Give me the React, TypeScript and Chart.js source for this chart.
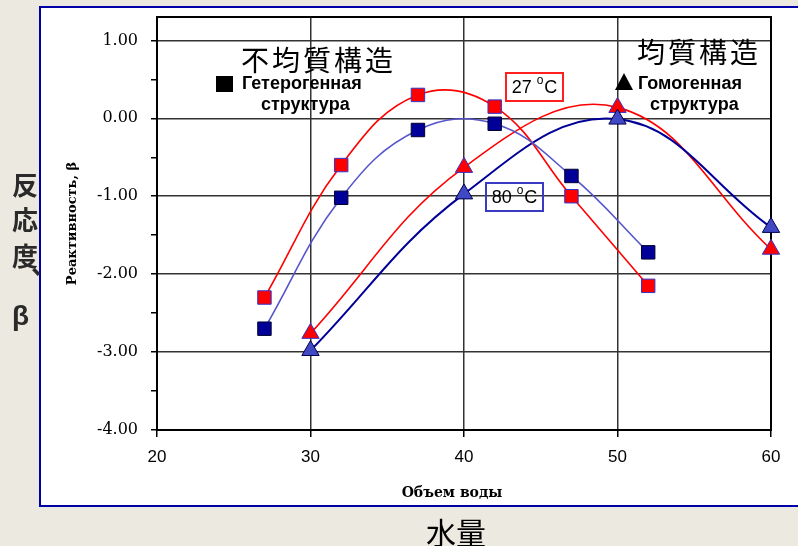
import React, { useEffect, useRef } from "react";
import { Chart, registerables } from "chart.js";

Chart.register(...registerables);

// ---- data ----
const WATER_HETERO = [27, 32, 37, 42, 47, 52];
const HETERO_27C = [-2.3, -0.6, 0.3, 0.15, -1.0, -2.15];
const HETERO_80C = [-2.7, -1.02, -0.15, -0.07, -0.74, -1.72];
const WATER_HOMO = [30, 40, 50, 60];
const HOMO_27C = [-2.76, -0.63, 0.14, -1.68];
const HOMO_80C = [-2.98, -0.97, -0.01, -1.4];
const X_TICKS = [20, 30, 40, 50, 60];
const Y_TICKS = [-4, -3, -2, -1, 0, 1];
const Y_MINOR_TICKS = [-3.5, -2.5, -1.5, -0.5, 0.5];
const X_TITLE = "Объем воды";
const Y_TITLE = "Реактивность, β";

const pts = (xs: number[], ys: number[]) => xs.map((x, i) => ({ x, y: ys[i] }));

const abs = (s: React.CSSProperties): React.CSSProperties => ({ position: "absolute", ...s });

export default function App() {
  const ref = useRef<HTMLCanvasElement>(null);

  useEffect(() => {
    const canvas = ref.current;
    if (!canvas) return;
    const frame = {
      id: "frame",
      beforeDatasetsDraw(chart: any) {
        const { ctx, chartArea: a } = chart;
        ctx.save();
        ctx.strokeStyle = "#000";
        ctx.lineWidth = 2;
        ctx.strokeRect(a.left, a.top, a.right - a.left, a.bottom - a.top);
        ctx.restore();
      },
    };
    const chart = new Chart(canvas, {
      type: "line",
      data: {
        datasets: [
          {
            label: "Гетерогенная 80°C",
            data: pts(WATER_HETERO, HETERO_80C),
            borderColor: "#5555CC",
            borderWidth: 1.6,
            tension: 0.4,
            pointStyle: "rect",
            pointRadius: 9.5,
            pointBackgroundColor: "#000099",
            pointBorderColor: "#000030",
            pointBorderWidth: 1,
            clip: false,
          },
          {
            label: "Гетерогенная 27°C",
            data: pts(WATER_HETERO, HETERO_27C),
            borderColor: "#FF0000",
            borderWidth: 1.6,
            tension: 0.4,
            pointStyle: "rect",
            pointRadius: 9.5,
            pointBackgroundColor: "#FF0000",
            pointBorderColor: "#3333CC",
            pointBorderWidth: 1,
            clip: false,
          },
          {
            label: "Гомогенная 80°C",
            data: pts(WATER_HOMO, HOMO_80C),
            borderColor: "#000099",
            borderWidth: 2,
            tension: 0.4,
            pointStyle: "triangle",
            pointRadius: 10,
            pointBackgroundColor: "#4048C4",
            pointBorderColor: "#000050",
            pointBorderWidth: 1,
            clip: false,
          },
          {
            label: "Гомогенная 27°C",
            data: pts(WATER_HOMO, HOMO_27C),
            borderColor: "#FF0000",
            borderWidth: 1.6,
            tension: 0.4,
            pointStyle: "triangle",
            pointRadius: 10,
            pointBackgroundColor: "#FF0000",
            pointBorderColor: "#3333CC",
            pointBorderWidth: 1,
            clip: false,
          },
        ],
      },
      options: {
        responsive: false,
        animation: false,
        layout: { padding: { top: 11, right: 27, left: 0, bottom: 0 } },
        plugins: { legend: { display: false }, tooltip: { enabled: false } },
        scales: {
          x: {
            type: "linear",
            min: 20,
            max: 60,
            afterBuildTicks: (s: any) => {
              s.ticks = X_TICKS.map((v) => ({ value: v }));
            },
            afterFit: (s: any) => {
              s.height = 76;
              s.paddingLeft = 0;
              s.paddingRight = 0;
            },
            border: { display: false },
            grid: { color: "#333", lineWidth: 1.5, tickLength: 7, tickColor: "#000", tickWidth: 1.5 },
            ticks: {
              autoSkip: false,
              maxRotation: 0,
              padding: 10,
              color: "#000",
              font: { family: "'Liberation Sans', Arial, sans-serif", size: 17 },
              callback: (v: any) => String(v),
            },
            title: { display: false, text: X_TITLE },
          },
          y: {
            type: "linear",
            min: -4,
            max: 1.3,
            afterBuildTicks: (s: any) => {
              s.ticks = [...Y_TICKS, ...Y_MINOR_TICKS].sort((a, b) => a - b).map((v) => ({ value: v }));
            },
            afterFit: (s: any) => {
              s.width = 117;
              s.paddingTop = 0;
              s.paddingBottom = 0;
            },
            border: { display: false },
            grid: {
              color: (c: any) => (Y_TICKS.includes(c.tick?.value) ? "#333" : "rgba(0,0,0,0)"),
              lineWidth: 1.5,
              tickLength: 6,
              tickColor: "#000",
              tickWidth: 1.5,
            },
            ticks: {
              autoSkip: false,
              padding: 13,
              color: "#000",
              font: { family: "'DejaVu Serif', serif", size: 16 },
              callback: (v: any) => (Y_TICKS.includes(Number(v)) ? Number(v).toFixed(2) : ""),
            },
            title: {
              display: true,
              text: Y_TITLE,
              color: "#000",
              font: { family: "'DejaVu Serif', serif", size: 13, weight: "bold" },
              padding: { top: 25, bottom: 0 },
            },
          },
        },
      },
      plugins: [frame],
    } as any);
    return () => chart.destroy();
  }, []);

  const ru: React.CSSProperties = {
    font: "bold 18px 'Liberation Sans', Arial, sans-serif",
    color: "#000",
    lineHeight: "20px",
    whiteSpace: "nowrap",
  };
  const cjk: React.CSSProperties = {
    fontFamily: "'Noto Sans CJK JP', sans-serif",
    color: "#000",
    whiteSpace: "nowrap",
  };
  const tempBox = (color: string): React.CSSProperties => ({
    border: `2px solid ${color}`,
    boxSizing: "border-box",
    display: "flex",
    alignItems: "center",
    justifyContent: "center",
    font: "18px 'Liberation Sans', Arial, sans-serif",
    color: "#000",
    whiteSpace: "nowrap",
  });
  const sup: React.CSSProperties = { fontSize: 12, position: "relative", top: -7, marginRight: 1 };

  return (
    <div style={abs({ position: "fixed", left: 0, top: 0, width: 798, height: 546, background: "#ECE9E0", overflow: "hidden" })}>
      <div
        style={abs({
          left: 39,
          top: 6,
          width: 800,
          height: 501,
          background: "#fff",
          border: "2px solid #0000A8",
          boxSizing: "border-box",
        })}
      />
      <canvas ref={ref} width={758} height={500} style={abs({ left: 40, top: 6, width: 758, height: 500 })} />

      {/* left vertical Japanese label */}
      <div style={abs({ left: 0, top: 160, width: 40, height: 200, ...cjk, fontWeight: 700, fontSize: 26, color: "#2a2a2a", lineHeight: "26px" })}>
        <span style={abs({ left: 12, top: 11 })}>反</span>
        <span style={abs({ left: 12, top: 46 })}>応</span>
        <span style={abs({ left: 12, top: 82 })}>度</span>
        <span style={abs({ left: 31, top: 90 })}>、</span>
        <span style={abs({ left: 12, top: 143, fontFamily: "'Liberation Sans', Arial, sans-serif", fontSize: 28 })}>β</span>
      </div>

      {/* titles inside plot */}
      <div style={abs({ left: 241, top: 45, fontSize: 28, letterSpacing: 3, lineHeight: "28px", ...cjk })}>不均質構造</div>
      <div style={abs({ left: 637, top: 37, fontSize: 28, letterSpacing: 3, lineHeight: "28px", ...cjk })}>均質構造</div>

      {/* heterogeneous legend */}
      <div style={abs({ left: 216, top: 76, width: 17, height: 16, background: "#000" })} />
      <div style={abs({ left: 242, top: 73, ...ru })}>Гетерогенная</div>
      <div style={abs({ left: 261, top: 94, ...ru })}>структура</div>

      {/* homogeneous legend */}
      <div
        style={abs({
          left: 615,
          top: 73,
          width: 0,
          height: 0,
          borderLeft: "9px solid transparent",
          borderRight: "9px solid transparent",
          borderBottom: "17px solid #000",
        })}
      />
      <div style={abs({ left: 638, top: 73, ...ru })}>Гомогенная</div>
      <div style={abs({ left: 650, top: 94, ...ru })}>структура</div>

      {/* temperature boxes */}
      <div style={abs({ left: 505, top: 72, width: 59, height: 30, ...tempBox("#FF2020") })}>
        27&nbsp;<span style={sup}>o</span>C
      </div>
      <div style={abs({ left: 485, top: 182, width: 59, height: 30, ...tempBox("#3a3ac4") })}>
        80&nbsp;<span style={sup}>o</span>C
      </div>

      {/* x axis title */}
      <div
        style={abs({
          left: 352,
          width: 200,
          top: 483,
          textAlign: "center",
          font: "bold 14px 'DejaVu Serif', serif",
          color: "#000",
          lineHeight: "18px",
        })}
      >
        {X_TITLE}
      </div>

      {/* bottom Japanese label */}
      <div style={abs({ left: 356, width: 200, top: 516, textAlign: "center", fontSize: 30, lineHeight: "30px", ...cjk })}>水量</div>
    </div>
  );
}
